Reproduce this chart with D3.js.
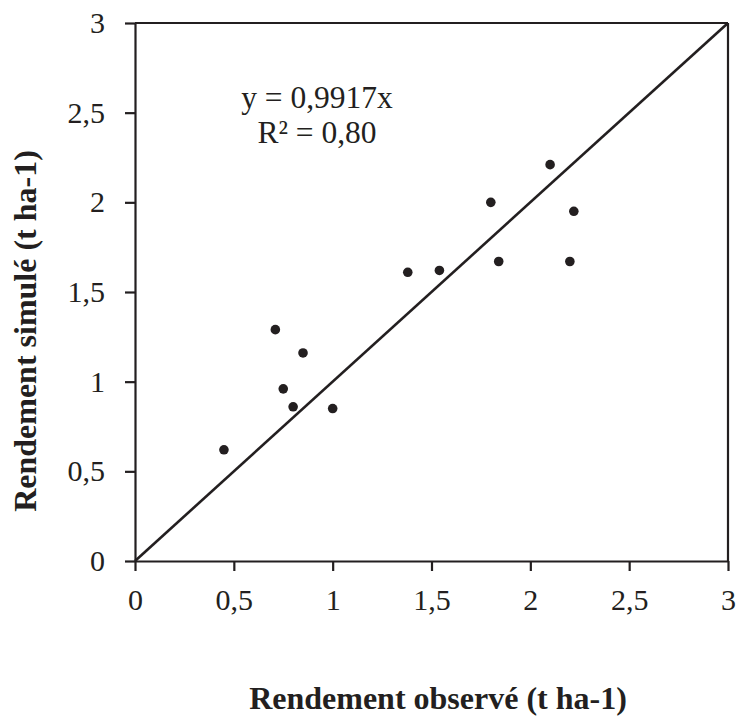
<!DOCTYPE html>
<html>
<head>
<meta charset="utf-8">
<script src="https://cdn.jsdelivr.net/npm/d3@7"></script>
<style>
  body { margin: 0; background: #fff; }
  text { font-family: "Liberation Serif", "Times New Roman", serif; fill: #231f20; }
</style>
</head>
<body>
<script>
const width = 737;
const height = 722;

// observed vs simulated yield (t ha-1)
const observed  = [0.45, 0.71, 0.85, 0.75, 0.80, 1.00, 1.38, 1.54, 1.80, 1.84, 2.10, 2.22, 2.20];
const simulated = [0.62, 1.29, 1.16, 0.96, 0.86, 0.85, 1.61, 1.62, 2.00, 1.67, 2.21, 1.95, 1.67];
const tickValues = [0, 0.5, 1, 1.5, 2, 2.5, 3];
const lineEnds = [0, 3];
const equation = ["y = 0,9917x", "R² = 0,80"];

const margin = {left: 135, top: 23, right: 9, bottom: 161};

const svg = d3.select("body").append("svg").attr("width", width).attr("height", height);

const x = d3.scaleLinear().domain([0, 3]).range([margin.left, width - margin.right]);
const y = d3.scaleLinear().domain([0, 3]).range([height - margin.bottom, margin.top]);

const fmt = d => String(d).replace(".", ",");
const ink = "#231f20";

// x axis
const xAxis = svg.append("g")
    .attr("transform", `translate(0,${y(0)})`)
    .call(d3.axisBottom(x).tickValues(tickValues).tickFormat(fmt).tickSizeInner(10).tickSizeOuter(0));

// y axis
const yAxis = svg.append("g")
    .attr("transform", `translate(${x(0)},0)`)
    .call(d3.axisLeft(y).tickValues(tickValues).tickFormat(fmt).tickSizeInner(10).tickSizeOuter(0).tickPadding(20));

[xAxis, yAxis].forEach(a => {
    a.selectAll("path, line").attr("stroke", ink).attr("stroke-width", 2.2);
    a.selectAll("text").attr("font-size", "30px").attr("fill", ink).attr("font-family", "Liberation Serif");
});
xAxis.selectAll("text").attr("y", 49).attr("dy", 0);

// frame top + right
svg.append("line").attr("x1", x(0)).attr("x2", x(3)).attr("y1", y(3)).attr("y2", y(3))
    .attr("stroke", ink).attr("stroke-width", 2.2);
svg.append("line").attr("x1", x(3)).attr("x2", x(3)).attr("y1", y(3)).attr("y2", y(0))
    .attr("stroke", ink).attr("stroke-width", 2.2);

// 1:1 / trend line
svg.append("line")
    .attr("x1", x(lineEnds[0])).attr("y1", y(lineEnds[0]))
    .attr("x2", x(lineEnds[1])).attr("y2", y(lineEnds[1]))
    .attr("stroke", ink).attr("stroke-width", 2.6);

// points
svg.selectAll("circle.pt")
    .data(observed.map((d, i) => [d, simulated[i]]))
    .enter()
    .append("circle")
    .attr("class", "pt")
    .attr("cx", d => x(d[0]))
    .attr("cy", d => y(d[1]))
    .attr("r", 4.8)
    .attr("fill", ink);

// equation
svg.selectAll("text.eq")
    .data(equation)
    .enter()
    .append("text")
    .attr("class", "eq")
    .attr("x", 317)
    .attr("y", (d, i) => 108 + i * 35)
    .attr("text-anchor", "middle")
    .attr("font-size", "31.5px")
    .text(d => d);

// axis titles
svg.append("text")
    .attr("x", 438).attr("y", 709)
    .attr("text-anchor", "middle")
    .attr("font-size", "32px")
    .attr("font-weight", "bold")
    .text("Rendement observé (t ha-1)");

svg.append("text")
    .attr("transform", `translate(36,331) rotate(-90)`)
    .attr("text-anchor", "middle")
    .attr("font-size", "32px")
    .attr("font-weight", "bold")
    .text("Rendement simulé (t ha-1)");
</script>
</body>
</html>
